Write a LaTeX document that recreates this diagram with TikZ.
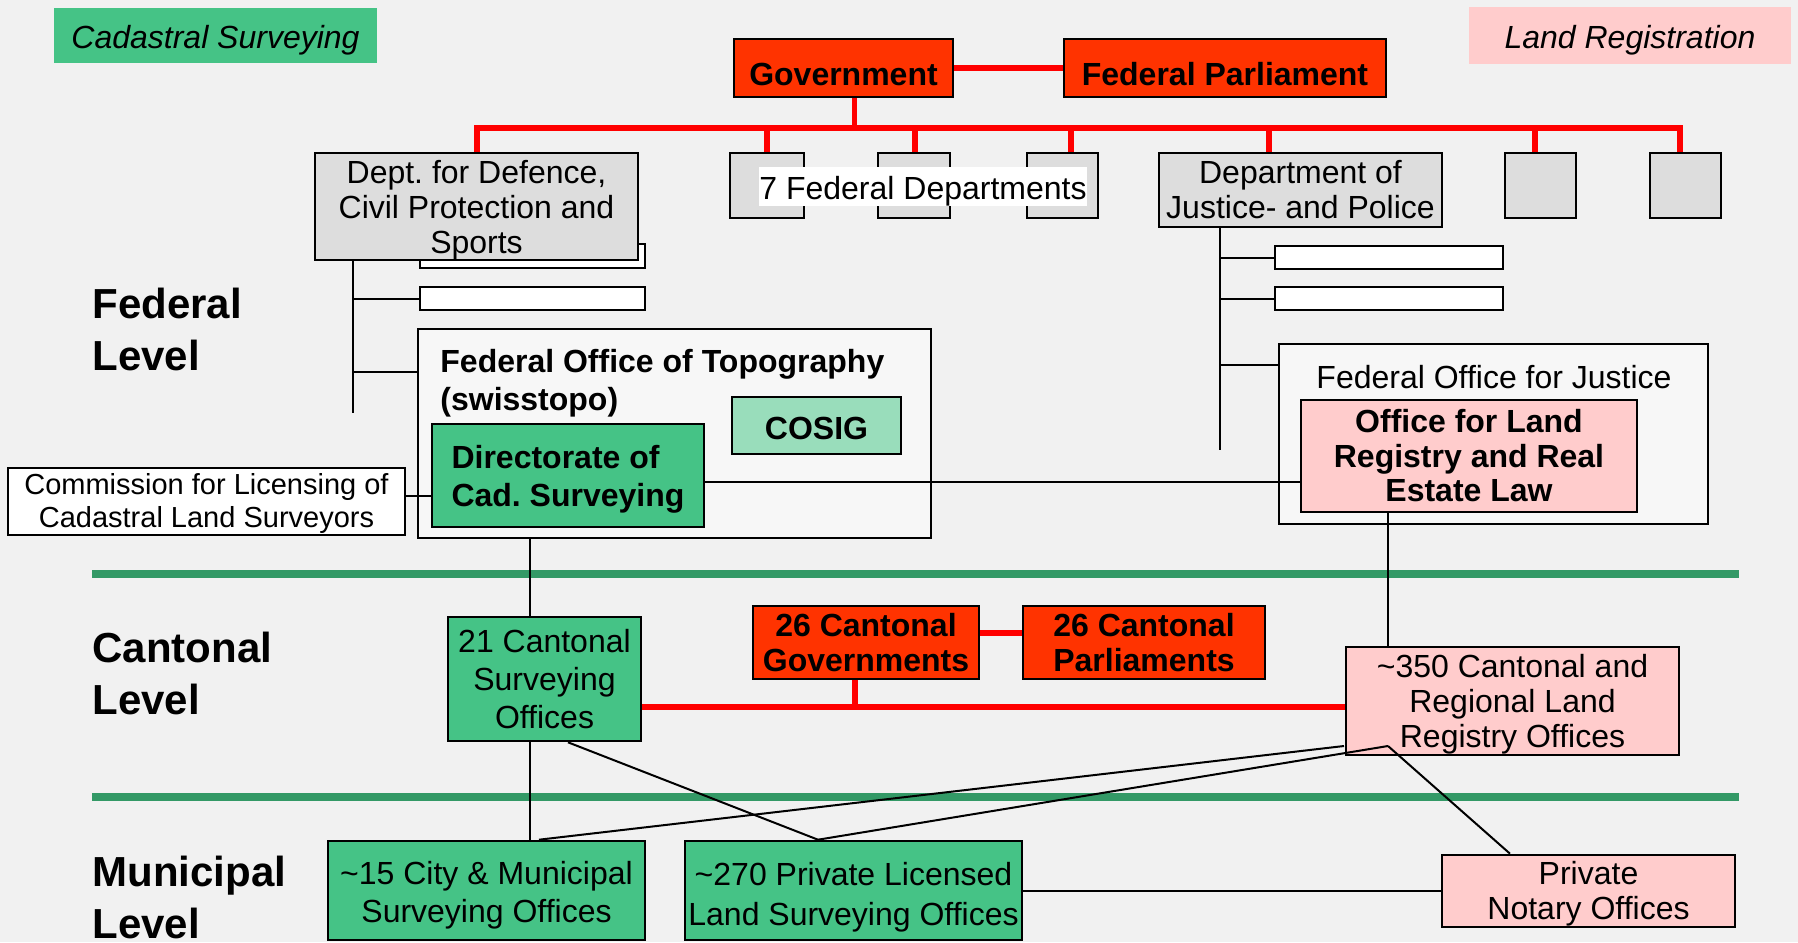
\documentclass[tikz,border=0pt]{standalone}
\usepackage{fontspec}
\setmainfont{Liberation Sans}
\frenchspacing

\definecolor{bggray}{HTML}{F1F1F1}
\definecolor{cadgreen}{HTML}{45C386}
\definecolor{cosiggreen}{HTML}{99DDBB}
\definecolor{landpink}{HTML}{FFCCCC}
\definecolor{govred}{HTML}{FF3300}
\definecolor{linered}{HTML}{FF0000}
\definecolor{sepgreen}{HTML}{339966}
\definecolor{deptgray}{HTML}{DDDDDD}
\definecolor{officegray}{HTML}{F7F7F7}

% invisible strut that pushes a first text line down
\newcommand{\sunk}[1]{\rule{0pt}{#1}}

\tikzset{
  wh/.style 2 args={minimum width=#1*0.5pt, minimum height=#2*0.5pt},
  box/.style={draw, line width=1.3pt, inner sep=0pt, align=center,
    font=\fontsize{16}{17.5}\selectfont},
  boldbox/.style={box, font=\bfseries\fontsize{16}{17.5}\selectfont},
  govbox/.style={boldbox, fill=govred},
  greenbox/.style={box, fill=cadgreen},
  pinkbox/.style={box, fill=landpink},
  graybox/.style={box, fill=deptgray},
  blankbox/.style={box, fill=white},
  officebox/.style={box, fill=officegray},
  redline/.style={draw=linered, line width=2.8pt},
  conn/.style={draw=black, line width=1pt},
  sepline/.style={draw=sepgreen, line width=4pt},
  levellabel/.style={anchor=base west, inner sep=0pt, align=left,
    font=\bfseries\fontsize{21}{25.75}\selectfont},
}

\begin{document}
\begin{tikzpicture}[x=0.5pt, y=-0.5pt]
    % Canvas
    \useasboundingbox (0,0) rectangle (1798,942);
    \fill[bggray] (0,0) rectangle (1798,942);

    % Level Separators
    \draw[sepline] (92,574) -- (1739,574);
    \draw[sepline] (92,797) -- (1739,797);

    % Corner Headers
    \node[wh={323}{55}, fill=cadgreen, inner sep=0pt, font=\itshape\fontsize{16}{18}\selectfont] (hdrcad) at (215.5,35.5) {\sunk{16.3pt}Cadastral Surveying};
    \node[wh={322}{57}, fill=landpink, inner sep=0pt, font=\itshape\fontsize{16}{18}\selectfont] (hdrland) at (1630,35.5) {\sunk{16.3pt}Land Registration};

    % Level Labels (anchored on the baseline of the last line)
    \node[levellabel] (lvfed) at (92,370) {Federal\\Level};
    \node[levellabel] (lvcant) at (92,714) {Cantonal\\Level};
    \node[levellabel] (lvmun) at (92,938) {Municipal\\Level};

    % Federal Top
    \node[govbox, wh={219}{58}] (gov) at (843.5,68) {\sunk{17.4pt}Government};
    \node[govbox, wh={322}{58}] (parl) at (1225,68) {\sunk{17.4pt}Federal Parliament};

    % Departments
    % -- defence side
    \node[blankbox, wh={225}{24}] (dA) at (532.5,256) {};
    \node[blankbox, wh={225}{23}] (dB) at (532.5,298.5) {};
    \node[graybox, wh={323}{107}] (dptdef) at (476.5,206.5) {\sunk{15.1pt}Dept. for Defence,\\Civil Protection and\\Sports};
    % -- the other departments
    \node[graybox, wh={74}{65}] (gA) at (767,185.5) {};
    \node[graybox, wh={72}{65}] (gB) at (914,185.5) {};
    \node[graybox, wh={71}{65}] (gC) at (1062.5,185.5) {};
    \node[graybox, wh={71}{65}] (gD) at (1540.5,185.5) {};
    \node[graybox, wh={71}{65}] (gE) at (1685.5,185.5) {};
    \node[fill=white, inner sep=0pt, wh={328}{39}, font=\fontsize{16}{17.5}\selectfont] (sevendep) at (923,186.5) {\sunk{16.3pt}7 Federal Departments};
    % -- justice side
    \node[graybox, wh={283}{74}] (dptjus) at (1300.5,190) {Department of\\Justice- and Police};
    \node[blankbox, wh={228}{23}] (jA) at (1389,257.5) {};
    \node[blankbox, wh={228}{23}] (jB) at (1389,298.5) {};

    % Federal Offices
    \node[officebox, wh={513}{209}] (topo) at (674.5,433.5) {};
    \node[anchor=north west, inner sep=0pt, align=left, font=\bfseries\fontsize{16}{19}\selectfont] (topotitle) at (440,349) {Federal Office of Topography\\(swisstopo)};
    \node[boldbox, fill=cosiggreen, wh={169}{57}] (cosig) at (816.5,425.5) {\sunk{14pt}COSIG};
    \node[greenbox, wh={272}{103}, align=left, font=\bfseries\fontsize{16}{19}\selectfont] (dir) at (568,475.5) {\sunk{15.7pt}Directorate of\\Cad. Surveying};
    \node[blankbox, wh={397}{67}, font=\fontsize{14.5}{16.5}\selectfont] (comm) at (206.5,501.5) {\sunk{12.9pt}Commission for Licensing of\\Cadastral Land Surveyors};
    \node[officebox, wh={429}{180}] (foj) at (1493.5,434) {};
    \node[anchor=base, inner sep=0pt, font=\fontsize{16}{18}\selectfont] (fojtitle) at (1494,388) {Federal Office for Justice};
    \node[pinkbox, wh={336}{112}, font=\bfseries\fontsize{16}{17.25}\selectfont] (olr) at (1469,456) {Office for Land\\Registry and Real\\Estate Law};

    % Cantonal Level
    \node[greenbox, wh={193}{124}, font=\fontsize{16}{19}\selectfont] (c21) at (544.5,679) {21 Cantonal\\Surveying\\Offices};
    \node[govbox, wh={226}{73}] (cgov) at (866,642.5) {26 Cantonal\\Governments};
    \node[govbox, wh={242}{73}] (cparl) at (1144,642.5) {26 Cantonal\\Parliaments};
    \node[pinkbox, wh={333}{108}] (reg) at (1512.5,701) {\sunk{15.1pt}\textasciitilde350 Cantonal and\\Regional Land\\Registry Offices};

    % Municipal Level
    \node[greenbox, wh={317}{99}, font=\fontsize{16}{19}\selectfont] (m15) at (486.5,890.5) {\sunk{16.3pt}\textasciitilde15 City \& Municipal\\Surveying Offices};
    \node[greenbox, wh={337}{99}, font=\fontsize{16}{20}\selectfont] (m270) at (853.5,890.5) {\sunk{18.6pt}\textasciitilde270 Private Licensed\\Land Surveying Offices};
    \node[pinkbox, wh={293}{72}] (notary) at (1588.5,891) {\sunk{14.6pt}Private\\Notary Offices};

    % Red Links
    \draw[redline, line width=3pt] (gov.east) -- (parl.west);
    \coordinate (busL) at (477,128);
    \coordinate (busR) at (1680,128);
    \draw[redline, line cap=rect] (busL) -- (busR);
    \coordinate (govstem) at ([xshift=5.5pt]gov.south);
    \draw[redline] (govstem) -- (govstem |- busL);
    \foreach \x/\n in {477/dptdef, 767/gA, 915/gB, 1071/gC, 1269/dptjus, 1535/gD, 1680/gE}{
        \coordinate (drop) at (\x,128);
        \draw[redline] (drop) -- (drop |- \n.north);
    }
    \draw[redline, line width=3pt] ([yshift=4.75pt]cgov.east) -- ([yshift=4.75pt]cparl.west);
    \coordinate (cantrow) at ([yshift=-3pt]reg.west);
    \draw[redline, line width=3pt] (c21.east |- cantrow) -- (cantrow);
    \coordinate (cgovstem) at ([xshift=-5.5pt]cgov.south);
    \draw[redline] (cgovstem) -- (cgovstem |- cantrow);

    % Black Links
    % -- defence tree
    \coordinate (vdef) at (353,0);
    \coordinate (defend) at (353,413);
    \coordinate (topoin) at ([yshift=30.75pt]topo.west);
    \draw[conn] (dptdef.south -| vdef) -- (defend);
    \draw[conn] (dB.west -| vdef) -- (dB.west);
    \draw[conn] (topoin -| vdef) -- (topoin);
    % -- justice tree
    \coordinate (vjus) at (1220,0);
    \coordinate (jusend) at (1220,450);
    \coordinate (fojin) at ([yshift=34.5pt]foj.west);
    \draw[conn] (dptjus.south -| vjus) -- (jusend);
    \draw[conn] (jA.west -| vjus) -- (jA.west);
    \draw[conn] (jB.west -| vjus) -- (jB.west);
    \draw[conn] (fojin -| vjus) -- (fojin);
    % -- federal offices
    \draw[conn] ([yshift=2.75pt]comm.east) -- ([yshift=2.75pt]comm.east -| dir.west);
    \draw[conn] ([yshift=-3.25pt]dir.east) -- ([yshift=-3.25pt]dir.east -| olr.west);
    % -- down to cantons
    \coordinate (vtopo) at (530,0);
    \coordinate (vreg) at (1388,0);
    \draw[conn] (topo.south -| vtopo) -- (c21.north -| vtopo);
    \draw[conn] (olr.south -| vreg) -- (reg.north -| vreg);
    % -- down to municipalities
    \coordinate (vcant) at (568,0);
    \coordinate (vcity) at (539,0);
    \coordinate (vpriv) at (818,0);
    \coordinate (vnot) at (1510,0);
    \coordinate (regA) at (1344,746);
    \coordinate (regB) at (1388,746);
    \draw[conn] (c21.south -| vtopo) -- (m15.north -| vtopo);
    \draw[conn] (c21.south -| vcant) -- (m270.north -| vpriv);
    \draw[conn] (regA) -- (m15.north -| vcity);
    \draw[conn] (regB) -- (m270.north -| vpriv);
    \draw[conn] (regB) -- (notary.north -| vnot);
    \draw[conn] (m270.east) -- (m270.east -| notary.west);
\end{tikzpicture}
\end{document}
